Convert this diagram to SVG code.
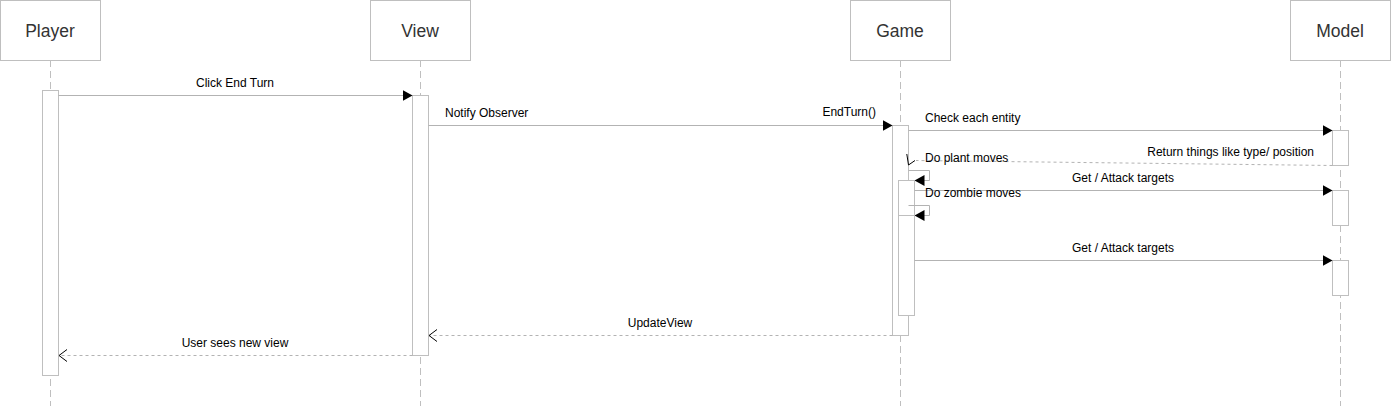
<svg xmlns="http://www.w3.org/2000/svg" width="1391" height="406" viewBox="0 0 1391 406">
<style>
.hdr{fill:#fff;stroke:#bfbfbf;stroke-width:1}
.hdrt{font-family:"Liberation Sans",Arial,sans-serif;font-size:17.5px;fill:#333;text-anchor:middle}
.life{stroke:#bfbfbf;stroke-width:1;stroke-dasharray:7 4;fill:none}
.act{fill:#fff;stroke:#bfbfbf;stroke-width:1}
.msg{stroke:#b3b3b3;stroke-width:1;fill:none}
.ret{stroke:#b3b3b3;stroke-width:1;fill:none;stroke-dasharray:3 3}
.lbl{font-family:"Liberation Sans",Arial,sans-serif;font-size:12px;fill:#000}
.mid{text-anchor:middle}
.end{text-anchor:end}
.open{stroke:#000;stroke-width:1;fill:none}
</style>
<defs>
<marker id="fill" markerWidth="10" markerHeight="12" refX="10" refY="6" orient="auto" markerUnits="userSpaceOnUse">
<path d="M0,0.5 L10,6 L0,11.5 Z" fill="#000"/>
</marker>
<marker id="openA" markerWidth="10" markerHeight="14" refX="9" refY="7" orient="auto" markerUnits="userSpaceOnUse">
<path d="M1,1 L9,7 L1,13" fill="none" stroke="#000" stroke-width="1"/>
</marker>
</defs>
<rect width="1391" height="406" fill="#fff"/>
<g id="lifelines">
<line class="life" x1="50.5" y1="60" x2="50.5" y2="406"/>
<line class="life" x1="420.5" y1="60" x2="420.5" y2="406"/>
<line class="life" x1="900.5" y1="60" x2="900.5" y2="406"/>
<line class="life" x1="1340.5" y1="60" x2="1340.5" y2="406"/>
</g>
<g id="player">
<rect class="hdr" x="0.5" y="0.5" width="100" height="60"/>
<text class="hdrt" x="50" y="37">Player</text>
<rect class="act" x="42.5" y="90.5" width="16" height="285"/>
</g>
<g id="view">
<rect class="hdr" x="370.5" y="0.5" width="100" height="60"/>
<text class="hdrt" x="420" y="37">View</text>
<rect class="act" x="412.5" y="95.5" width="16" height="260"/>
</g>
<g id="game">
<rect class="hdr" x="850.5" y="0.5" width="100" height="60"/>
<text class="hdrt" x="900" y="37">Game</text>
<rect class="act" x="892.5" y="125.5" width="16" height="210"/>
<rect class="act" x="898.5" y="180.5" width="16" height="135"/>
<rect class="act" x="898.5" y="215.5" width="16" height="100"/>
</g>
<g id="model">
<rect class="hdr" x="1290.5" y="0.5" width="100" height="60"/>
<text class="hdrt" x="1340" y="37">Model</text>
<rect class="act" x="1332.5" y="130.5" width="16" height="35"/>
<rect class="act" x="1332.5" y="190.5" width="16" height="35"/>
<rect class="act" x="1332.5" y="260.5" width="16" height="35"/>
</g>
<g id="connectors">
<line class="msg" x1="58.5" y1="95.5" x2="412.5" y2="95.5" marker-end="url(#fill)"/>
<line class="msg" x1="428.5" y1="125.5" x2="892.5" y2="125.5" marker-end="url(#fill)"/>
<line class="msg" x1="908.5" y1="130.5" x2="1332.5" y2="130.5" marker-end="url(#fill)"/>
<polyline class="ret" points="1332.5,165.5 916,160.5"/>
<path class="open" d="M906.8,154 L908.5,165 L915,160.5"/>
<polyline class="msg" points="908.5,170.5 929.5,170.5 929.5,180.5 914.5,180.5" marker-end="url(#fill)"/>
<line class="msg" x1="914.5" y1="190.5" x2="1332.5" y2="190.5" marker-end="url(#fill)"/>
<polyline class="msg" points="908.5,205.5 929.5,205.5 929.5,215.5 914.5,215.5" marker-end="url(#fill)"/>
<line class="msg" x1="914.5" y1="260.5" x2="1332.5" y2="260.5" marker-end="url(#fill)"/>
<line class="ret" x1="892.5" y1="335.5" x2="429" y2="335.5" marker-end="url(#openA)"/>
<line class="ret" x1="412.5" y1="355.5" x2="59" y2="355.5" marker-end="url(#openA)"/>
</g>
<g id="labels">
<text class="lbl mid" x="235" y="87">Click End Turn</text>
<text class="lbl" x="445" y="117">Notify Observer</text>
<text class="lbl end" x="876" y="116">EndTurn()</text>
<text class="lbl" x="925" y="122">Check each entity</text>
<text class="lbl end" x="1314" y="156">Return things like type/ position</text>
<text class="lbl" x="925" y="162">Do plant moves</text>
<text class="lbl mid" x="1123" y="182">Get / Attack targets</text>
<text class="lbl" x="925" y="197">Do zombie moves</text>
<text class="lbl mid" x="1123" y="252">Get / Attack targets</text>
<text class="lbl mid" x="660" y="327">UpdateView</text>
<text class="lbl mid" x="235" y="347">User sees new view</text>
</g>
</svg>
